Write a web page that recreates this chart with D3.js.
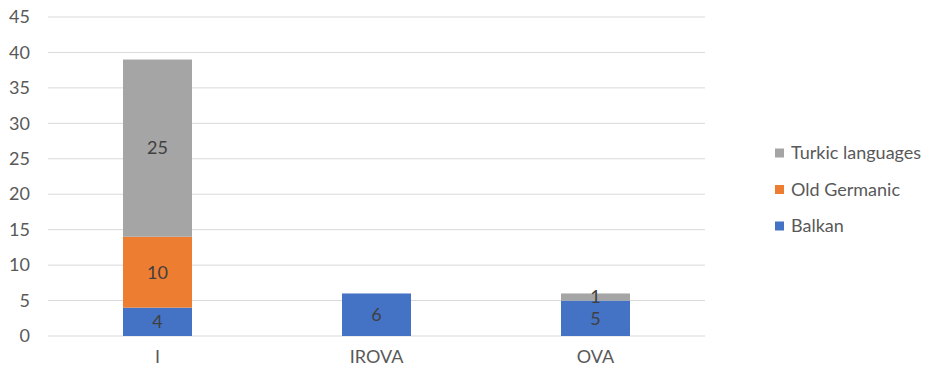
<!DOCTYPE html>
<html>
<head>
<meta charset="utf-8">
<script src="https://cdn.jsdelivr.net/npm/d3@7"></script>
<style>
  html, body { margin: 0; padding: 0; background: #fff; }
  svg { display: block; font-family: Lato, "Open Sans", sans-serif; }
</style>
</head>
<body>
<svg id="chart" width="928" height="371"></svg>
<script>
// Categories and stacked series values
const categories = ["I", "IROVA", "OVA"];
const seriesNames = ["Balkan", "Old Germanic", "Turkic languages"];
const balkan = [4, 6, 5];
const oldGermanic = [10, 0, 0];
const turkic = [25, 0, 1];
const yTicks = [0, 5, 10, 15, 20, 25, 30, 35, 40, 45];
const colors = ["#4472c4", "#ed7d31", "#a5a5a5"];

const rows = categories.map((c, i) => ({
  cat: c,
  "Balkan": balkan[i],
  "Old Germanic": oldGermanic[i],
  "Turkic languages": turkic[i]
}));

const svg = d3.select("#chart");
const plot = { left: 48, right: 705, top: 17, bottom: 336 };
const fontSize = "18px";

const x = d3.scaleBand().domain(categories).range([plot.left, plot.right]).padding(0);
const barW = x.bandwidth() * 0.315;
const y = d3.scaleLinear().domain([0, 45]).range([plot.bottom, plot.top]);

// Horizontal gridlines
svg.append("g")
  .selectAll("line")
  .data(yTicks)
  .join("line")
  .attr("x1", plot.left).attr("x2", plot.right)
  .attr("y1", d => y(d)).attr("y2", d => y(d))
  .attr("stroke", "#d9d9d9").attr("stroke-width", 1);

// Y axis labels
const yAxis = d3.axisLeft(y).tickValues(yTicks).tickSize(0).tickPadding(0);
const yg = svg.append("g").attr("transform", "translate(30,0)").call(yAxis);
yg.select(".domain").remove();
yg.selectAll("text").attr("fill", "#595959").style("font-size", fontSize).style("font-family", "Lato, 'Open Sans', sans-serif");

// X axis labels
const xAxis = d3.axisBottom(x).tickSize(0).tickPadding(0);
const xg = svg.append("g").attr("transform", `translate(0,${plot.bottom + 14})`).call(xAxis);
xg.select(".domain").remove();
xg.selectAll("text").attr("fill", "#595959").style("font-size", fontSize).style("font-family", "Lato, 'Open Sans', sans-serif");

// Stacked bars
const stack = d3.stack().keys(seriesNames);
const layers = stack(rows);

const layerG = svg.append("g").selectAll("g")
  .data(layers)
  .join("g")
  .attr("fill", (d, i) => colors[i]);

layerG.selectAll("rect")
  .data(d => d.filter(s => s[1] - s[0] > 0))
  .join("rect")
  .attr("x", d => x(d.data.cat) + x.bandwidth() / 2 - barW / 2)
  .attr("width", barW)
  .attr("y", d => y(d[1]))
  .attr("height", d => y(d[0]) - y(d[1]));

// Value labels in each segment
layerG.selectAll("text")
  .data(d => d.filter(s => s[1] - s[0] > 0).map(s => ({ s, key: d.key })))
  .join("text")
  .attr("x", d => x(d.s.data.cat) + x.bandwidth() / 2)
  .attr("y", d => (y(d.s[0]) + y(d.s[1])) / 2)
  .attr("dy", "0.35em")
  .attr("text-anchor", "middle")
  .attr("fill", "#404040")
  .style("font-size", fontSize)
  .text(d => d.s[1] - d.s[0]);

// Legend (top-down order reversed to match stacking)
const legendItems = seriesNames.slice().reverse();
const legend = svg.append("g").attr("transform", "translate(775,0)");
const lg = legend.selectAll("g")
  .data(legendItems)
  .join("g")
  .attr("transform", (d, i) => `translate(0,${153 + i * 36.5})`);
lg.append("rect")
  .attr("x", 0).attr("y", -4.5)
  .attr("width", 9).attr("height", 9)
  .attr("fill", d => colors[seriesNames.indexOf(d)]);
lg.append("text")
  .attr("x", 16).attr("y", 0).attr("dy", "0.35em")
  .attr("fill", "#595959")
  .style("font-size", fontSize)
  .text(d => d);
</script>
</body>
</html>
